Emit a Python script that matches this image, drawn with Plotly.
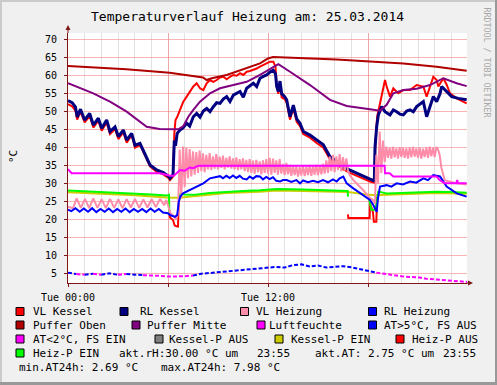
import plotly.graph_objects as go

# ---------------- data (hours since 00:00, °C) ----------------
vl_kessel_t = [0.0, 0.25, 0.45, 0.55, 0.75, 1.0, 1.3, 1.52, 1.82, 2.02, 2.32, 2.52, 2.82, 3.02, 3.32, 3.52,
               3.82, 4.02, 4.32, 4.5, 4.62, 4.92, 5.32, 5.72, 6.05, 6.12, 6.3, 6.38, 6.45, 6.55, 6.72, 6.92,
               7.12, 7.32, 7.52, 7.72, 7.92, 8.12, 8.32, 8.52, 8.72, 8.92, 9.12, 9.32, 9.52, 9.72, 9.92, 10.12,
               10.32, 10.52, 10.72, 10.92, 11.12, 11.32, 11.52, 11.72, 11.92, 12.12, 12.32, 12.45, 12.52, 12.62,
               12.72, 12.82, 13.0, 13.12, 13.32, 13.52, 13.72, 13.92, 14.12, 14.52, 14.92, 15.32, 15.72, 16.12,
               16.52, 16.92, 17.32, 17.72, 18.12, 18.38, 18.45, 18.55, 18.72, 18.9, 19.02, 19.12, 19.32, 19.52,
               19.82, 20.12, 20.52, 20.92, 21.32, 21.52, 21.72, 21.92, 22.12, 22.22, 22.52, 22.72, 22.92, 23.32,
               23.92]
vl_kessel_v = [52.1, 51.5, 50.3, 47.8, 50.0, 47.0, 48.8, 45.6, 47.5, 44.7, 47.0, 43.8, 45.2, 42.4, 44.3, 41.4,
               43.5, 40.0, 40.8, 39.0, 37.8, 34.8, 33.3, 32.6, 31.5, 31.0, 32.0, 44.0, 47.7, 48.5, 50.5, 52.8,
               54.2, 55.5, 57.0, 57.9, 56.5, 56.0, 57.9, 58.8, 58.3, 58.8, 59.5, 59.7, 59.0, 59.7, 60.2, 60.0,
               60.7, 60.2, 61.1, 61.3, 61.6, 62.0, 62.5, 63.0, 63.4, 63.9, 63.9, 62.5, 57.5, 55.0,
               57.5, 54.0, 53.5, 52.5, 47.8, 51.0, 47.2, 46.0, 43.8, 42.8, 41.3, 40.0, 36.8, 35.3,
               34.0, 33.0, 32.2, 31.3, 30.6, 30.3, 42.0, 48.6, 52.3, 56.0, 58.8, 57.0, 54.2, 56.5,
               55.1, 56.0, 56.0, 57.4, 57.0, 54.2, 57.0, 59.7, 58.8, 57.0, 59.3, 57.5, 55.1, 53.7,
               52.3]

rl_kessel_t = [0.0, 0.25, 0.45, 0.55, 0.75, 1.0, 1.3, 1.52, 1.82, 2.02, 2.32, 2.52, 2.82, 3.02, 3.32, 3.52,
               3.82, 4.02, 4.32, 4.5, 4.62, 4.92, 5.32, 5.72, 6.05, 6.12, 6.3, 6.38, 6.45, 6.55, 6.72, 6.9,
               7.12, 7.3, 7.52, 7.72, 7.92, 8.12, 8.32, 8.52, 8.72, 8.92, 9.12, 9.32, 9.52, 9.72, 9.92, 10.12,
               10.32, 10.52, 10.72, 10.92, 11.12, 11.32, 11.52, 11.72, 11.92, 12.12, 12.32, 12.45, 12.52, 12.62,
               12.72, 12.82, 13.0, 13.12, 13.32, 13.52, 13.72, 13.92, 14.12, 14.52, 14.92, 15.32, 15.72, 16.12,
               16.52, 16.92, 17.32, 17.72, 18.12, 18.38, 18.42, 18.52, 18.62, 18.82, 19.02, 19.32, 19.52, 19.72,
               19.92, 20.12, 20.32, 20.52, 20.72, 20.92, 21.12, 21.32, 21.52, 21.72, 21.92, 22.12, 22.32, 22.42,
               22.72, 23.02, 23.42, 23.92]
rl_kessel_v = [53.1, 52.5, 51.3, 48.5, 50.7, 47.7, 49.5, 46.3, 48.2, 45.4, 47.7, 44.5, 45.8, 43.1, 44.9, 42.1,
               44.0, 40.7, 41.2, 39.5, 38.4, 35.2, 33.8, 33.1, 32.0, 31.5, 32.5, 42.0, 40.5, 44.0, 44.9, 45.5,
               46.8, 46.0, 48.6, 49.5, 48.5, 50.2, 50.9, 50.0, 51.4, 52.5, 52.3, 53.5, 54.2, 52.8, 54.6, 55.2,
               55.6, 54.0, 56.5, 57.2, 57.9, 57.0, 59.3, 59.8, 60.2, 61.0, 61.5, 60.5, 57.0, 55.6,
               58.5, 55.0, 54.2, 53.3, 48.6, 51.8, 48.0, 46.8, 44.5, 43.5, 42.1, 40.8, 37.5, 36.1,
               34.7, 33.8, 32.9, 32.0, 31.3, 30.8, 40.0, 45.8, 49.1, 51.4, 50.0, 49.1, 50.5, 50.0,
               49.3, 49.1, 50.2, 50.5, 50.0, 51.4, 52.0, 52.8, 48.6, 51.5, 54.2, 52.8, 55.0, 57.0,
               55.6, 54.2, 53.7, 53.3]

# VL Heizung: night part, dense oscillation parts (step 0.1 h), transitions
vl_heiz_night_t = [0.0, 0.3, 0.52, 0.77, 1.02, 1.27, 1.52, 1.77, 2.02, 2.27, 2.52, 2.77, 3.02, 3.27, 3.52, 3.77,
                   4.02, 4.27, 4.52, 4.77, 5.02, 5.27, 5.52, 5.77, 5.9, 6.05, 6.15, 6.35, 6.5]
vl_heiz_night_v = [23.6, 23.2, 25.9, 23.3, 25.8, 23.2, 25.9, 23.3, 25.7, 23.2, 25.8, 23.3, 25.6, 23.2, 25.7, 23.4,
                   25.8, 23.3, 25.6, 23.4, 25.7, 23.5, 25.8, 24.0, 25.5, 23.0, 21.8, 21.0, 20.0]
vl_heiz_day_start = 6.6
vl_heiz_day_v = [22.0, 39.5, 26.0, 40.3, 29.0, 40.0, 31.5, 39.6, 32.0, 39.0, 32.5, 38.8, 33.0, 39.2, 33.5, 38.4,
                 33.2, 38.0, 34.0, 38.5, 33.8, 37.6, 34.2, 38.2, 34.0, 37.5, 34.4, 37.8, 34.0, 37.2, 34.5, 37.6,
                 34.2, 37.0, 34.0, 37.3, 33.8, 36.8, 34.0, 37.0, 33.5, 36.6, 33.2, 36.8, 33.0, 36.4, 32.8, 36.6,
                 33.2, 36.2, 32.6, 36.5, 33.0, 36.8, 32.8, 37.2, 32.5, 37.0, 33.0, 36.5, 32.5, 36.8, 32.8, 35.5,
                 32.4, 35.8, 32.6, 35.2, 32.2, 35.0, 32.4, 34.8, 32.0, 34.6, 32.3, 35.0, 32.1, 34.7, 32.4, 35.2,
                 32.2, 34.9, 32.5, 35.3, 32.4, 35.0, 32.6, 35.5, 32.8, 36.5, 33.0, 37.5, 33.5, 38.0, 33.2, 37.6,
                 33.8, 38.2, 33.4, 37.4, 33.6, 37.0, 33.5]
vl_heiz_mid_t = [16.9, 17.12, 17.5, 17.72, 18.12, 18.3, 18.42]
vl_heiz_mid_v = [32.5, 31.0, 29.2, 28.2, 26.0, 25.5, 24.5]
vl_heiz_eve_start = 18.5
vl_heiz_eve_v = [38.0, 30.0, 44.5, 33.0, 42.0, 36.0, 40.3, 37.2, 40.0, 37.0, 40.2, 37.3, 39.8, 37.0, 40.1, 37.4,
                 40.0, 37.2, 39.8, 37.0, 40.0, 37.3, 40.2, 37.5, 39.8, 37.2, 40.0, 37.0, 39.7, 37.4, 40.1, 37.2,
                 40.3, 37.6, 40.0, 37.4, 40.2, 39.5, 38.0]
vl_heiz_end_t = [22.4, 22.5, 22.6, 23.0, 23.32, 23.92]
vl_heiz_end_v = [34.5, 32.5, 31.0, 30.5, 30.1, 29.8]

rl_heiz_t = [0.0, 0.2, 0.45, 0.7, 0.95, 1.2, 1.45, 1.7, 1.95, 2.2, 2.45, 2.7, 2.95, 3.2, 3.45, 3.7, 3.95, 4.2,
             4.45, 4.7, 4.95, 5.2, 5.45, 5.7, 6.0, 6.12, 6.42, 6.55, 6.65, 6.75, 6.9, 7.2, 7.52, 7.8, 8.12,
             8.52, 8.8, 9.12, 9.3, 9.5, 9.7, 9.9, 10.1, 10.3, 10.5, 10.72, 10.9, 11.1, 11.3, 11.52, 11.7, 11.9,
             12.1, 12.3, 12.5, 12.72, 12.9, 13.12, 13.4, 13.7, 13.92, 14.1, 14.4, 14.7, 15.0, 15.3, 15.6, 15.9,
             16.12, 16.3, 16.52, 16.62, 16.72, 17.12, 17.72, 18.12, 18.32, 18.52, 18.6, 18.72, 19.12, 19.4,
             19.72, 20.1, 20.52, 20.9, 21.32, 21.6, 21.92, 22.32, 22.72, 23.32, 23.92]
rl_heiz_v = [22.8, 22.4, 23.2, 22.2, 23.1, 22.2, 23.2, 22.1, 23.0, 22.2, 23.1, 22.1, 23.0, 22.2, 23.1, 22.1, 23.0,
             22.2, 23.0, 22.1, 23.1, 22.2, 23.0, 22.0, 21.8, 21.3, 20.8, 21.3, 25.0, 26.5, 27.3, 28.0, 28.7,
             29.2, 30.1, 31.5, 31.8, 32.1, 31.5, 32.2, 31.6, 32.3, 31.6, 32.2, 31.4, 31.2, 32.0, 31.4, 32.1,
             32.0, 31.2, 31.9, 31.3, 31.8, 30.8, 30.6, 31.0, 31.0, 30.5, 31.0, 30.1, 30.9, 30.4, 30.8, 30.4,
             31.0, 30.4, 31.2, 30.6, 31.5, 32.0, 31.0, 30.1, 28.7, 26.9, 25.5, 24.1, 22.2, 26.0, 29.2, 29.6,
             29.2, 30.1, 29.8, 30.6, 30.3, 31.5, 31.0, 32.4, 32.0, 29.2, 27.3, 26.4]

puffer_oben_t = [0.0, 3.5, 6.1, 7.9, 8.1, 8.32, 8.62, 9.52, 10.72, 11.52, 12.0, 12.3, 16.12, 20.12, 22.12, 23.92]
puffer_oben_v = [62.7, 61.8, 60.8, 59.7, 59.5, 58.8, 59.3, 60.2, 62.0, 63.4, 64.8, 65.2, 64.5, 63.4, 62.5, 61.4]

puffer_mitte_t = [0.0, 1.52, 2.12, 2.52, 3.52, 4.72, 5.5, 6.12, 6.62, 6.92, 7.22, 7.52, 7.92, 8.52, 9.12, 9.92,
                  10.72, 11.52, 12.32, 12.62, 13.32, 14.52, 15.72, 16.72, 18.12, 18.72, 19.12, 19.52, 20.12,
                  20.92, 21.72, 22.52, 23.32, 23.92]
puffer_mitte_v = [57.9, 55.1, 53.7, 52.8, 50.0, 45.8, 45.2, 45.1, 45.1, 46.0, 48.6, 50.5, 52.8, 55.1, 56.5, 57.4,
                  58.3, 60.2, 62.5, 63.2, 61.1, 57.4, 53.3, 51.6, 50.7, 50.3, 51.9, 55.1, 56.0,
                  56.4, 57.4, 59.3, 57.9, 57.1]

luftfeuchte_t = [0.0, 0.1, 0.22, 5.52, 5.8, 6.12, 6.35, 6.5, 6.72, 7.0, 7.3, 7.52, 7.82, 19.0, 19.02, 19.3,
                 19.52, 22.12, 22.3, 22.6, 23.3, 23.35, 23.4, 23.92]
luftfeuchte_v = [34.0, 33.5, 32.9, 32.9, 32.6, 32.2, 32.2, 32.8, 33.8, 33.6, 34.5, 34.3, 35.0, 35.0, 32.9, 32.9,
                 32.0, 32.0, 31.0, 30.1, 30.1, 31.0, 30.1, 30.1]

# outside temperature (AT), every 30 min; segment state B = blue (AT>5°C, FS AUS), M = magenta (AT<2°C, FS EIN)
at_step = 0.5
at_v = [5.3, 4.9, 4.7, 5.0, 4.7, 5.1, 4.7, 4.9, 4.7, 4.6,
        4.6, 4.4, 4.2, 4.2, 4.3, 4.5, 5.0, 5.2, 5.4, 5.6,
        5.9, 6.1, 6.2, 6.3, 6.6, 6.9, 6.7, 7.4, 7.6, 7.0,
        7.3, 6.7, 6.9, 7.1, 6.8, 6.3, 5.9, 5.3, 4.9, 4.6,
        4.3, 4.1, 4.0, 3.6, 3.4, 3.25, 3.0, 2.8, 2.7]
at_seg = "BMBMBBMBB" + "MMMMMM" + "B" * 22 + "M" * 11

kessel_p_ein_t = [0.0, 2.0, 4.0, 5.92, 6.68, 7.5, 9.5, 11.5, 12.5, 14.1, 16.1, 16.8, 18.08, 18.5, 19.12, 20.12,
                  22.12, 23.92]
kessel_p_ein_v = [27.6, 27.3, 26.8, 26.2, 26.1, 26.5, 27.4, 27.8, 28.1, 28.0, 27.7, 27.7, 26.9, 26.8, 26.9, 27.1,
                  27.4, 27.2]

heiz_p_aus_t = [6.08, 6.12, 6.3, 6.4, 6.55, 6.6, 6.64, None, 16.8, 16.82, 18.1, 18.12, 18.3, 18.35, 18.5, 18.55]
heiz_p_aus_v = [22.0, 20.6, 19.9, 18.4, 18.1, 18.1, 24.6, None, 21.5, 20.5, 20.5, 24.6, 22.0, 19.4, 19.4, 26.4]

heiz_p_ein_t = [0.0, 1.0, 2.0, 3.0, 4.0, 5.0, 5.92, 6.06, 6.08, None, 6.68, 6.75, 7.0, 7.52, 8.5, 9.52, 10.5,
                11.52, 12.52, 14.12, 16.12, 16.72, 16.78, 16.8, None, 18.06, 18.2, 18.45, 18.62, 19.12, 20.12,
                21.0, 22.12, 23.0, 23.92]
heiz_p_ein_v = [28.1, 27.9, 27.8, 27.5, 27.3, 27.0, 26.7, 26.9, 22.2, None, 26.0, 27.3, 27.0, 26.9, 27.4, 27.8,
                28.0, 28.2, 28.5, 28.4, 28.1, 27.9, 28.0, 26.4, None, 26.0, 22.8, 22.8, 27.8, 27.3, 27.5,
                27.7, 27.8, 27.7, 27.5]

legend_labels = ["VL Kessel", "RL Kessel", "VL Heizung", "RL Heizung", "Puffer Oben", "Puffer Mitte",
                 "Luftfeuchte", "AT>5°C, FS AUS", "AT<2°C, FS EIN", "Kessel-P AUS", "Kessel-P EIN",
                 "Heiz-P AUS", "Heiz-P EIN"]
legend_colors = ["#FF0000", "#000080", "#FF8CA8", "#0000FF", "#B00000", "#800080", "#FF00FF", "#0000FF",
                 "#FF00FF", "#808080", "#CCCC00", "#FF0000", "#00FF00"]
info_texts = ["akt.rH:30.00 °C um", "23:55", "akt.AT: 2.75 °C um", "23:55",
              "min.AT24h: 2.69 °C", "max.AT24h: 7.98 °C"]
title_text = "Temperaturverlauf Heizung am: 25.03.2014"
x_tick_text = ["Tue 00:00", "", "Tue 12:00", ""]

# ---------------- geometry ----------------
W, H = 497, 385
L, R, T, B = 68, 30, 33, 102
PW, PH = W - L - R, H - T - B
MONO = "DejaVu Sans Mono"


def px(x):
    return (x - L) / PW


def py(y):
    return (H - B - y) / PH


col = dict(zip(legend_labels, legend_colors))
fig = go.Figure()


def line(t, v, color, width=2, dash=None):
    fig.add_trace(go.Scatter(x=t, y=v, mode="lines", line=dict(color=color, width=width, dash=dash),
                             connectgaps=False, hoverinfo="skip", showlegend=False))


# Kessel-P EIN (under green)
line(kessel_p_ein_t, kessel_p_ein_v, col["Kessel-P EIN"])
line(heiz_p_aus_t, heiz_p_aus_v, col["Heiz-P AUS"])
line(heiz_p_ein_t, heiz_p_ein_v, col["Heiz-P EIN"])

line(vl_kessel_t, vl_kessel_v, col["VL Kessel"], 2)
line(rl_kessel_t, rl_kessel_v, col["RL Kessel"], 3)

vl_day_t = [round(vl_heiz_day_start + 0.1 * i, 2) for i in range(len(vl_heiz_day_v))]
vl_eve_t = [round(vl_heiz_eve_start + 0.1 * i, 2) for i in range(len(vl_heiz_eve_v))]
line(vl_heiz_night_t + vl_day_t + vl_heiz_mid_t + vl_eve_t + vl_heiz_end_t,
     vl_heiz_night_v + vl_heiz_day_v + vl_heiz_mid_v + vl_heiz_eve_v + vl_heiz_end_v,
     col["VL Heizung"], 2)
line(rl_heiz_t, rl_heiz_v, col["RL Heizung"], 2)
line(puffer_oben_t, puffer_oben_v, col["Puffer Oben"], 2)
line(puffer_mitte_t, puffer_mitte_v, col["Puffer Mitte"], 2)
line(luftfeuchte_t, luftfeuchte_v, col["Luftfeuchte"], 2)

# outside temperature, split by state
at_t = [at_step * i for i in range(len(at_v))]
i = 0
while i < len(at_seg):
    j = i
    while j + 1 < len(at_seg) and at_seg[j + 1] == at_seg[i]:
        j += 1
    c = col["AT>5°C, FS AUS"] if at_seg[i] == "B" else col["AT<2°C, FS EIN"]
    line(at_t[i:j + 2], at_v[i:j + 2], c, 2, "4px,2px")
    i = j + 1

GRID_MAJOR = "rgba(240,120,120,0.55)"
GRID_MINOR = "#E2E2E2"
AXIS = "#7F1515"

fig.update_layout(
    width=W, height=H,
    margin=dict(l=L, r=R, t=T, b=B, pad=0),
    paper_bgcolor="#F0F0F0", plot_bgcolor="#FFFFFF",
    font=dict(family=MONO, size=10, color="#000000"),
    showlegend=False,
    xaxis=dict(range=[0, 23.94], tickmode="array", tickvals=[0, 6, 12, 18], ticktext=x_tick_text,
               showgrid=True, gridcolor=GRID_MAJOR, gridwidth=1, zeroline=False,
               showline=True, linecolor=AXIS, linewidth=1, ticks="outside", ticklen=3, tickcolor=AXIS,
               tickfont=dict(family=MONO, size=10, color="#000"), ticklabelstandoff=2,
               minor=dict(dtick=1, tick0=0, showgrid=True, gridcolor=GRID_MINOR, gridwidth=1, ticks="")),
    yaxis=dict(range=[2.42, 71.86], tick0=0, dtick=5, showgrid=True, gridcolor=GRID_MAJOR, gridwidth=1,
               zeroline=False, showline=True, linecolor=AXIS, linewidth=1, ticks="outside", ticklen=3,
               tickcolor=AXIS, tickfont=dict(family=MONO, size=10, color="#000"), ticklabelstandoff=5),
)

shapes = []
# y-axis arrow
shapes.append(dict(type="line", xref="paper", yref="paper", x0=0, x1=0, y0=1, y1=py(29), line=dict(color=AXIS, width=1)))
shapes.append(dict(type="path", xref="paper", yref="paper",
                   path=f"M {px(65.5)} {py(30)} L {px(68)} {py(25)} L {px(70.5)} {py(30)} Z",
                   fillcolor=AXIS, line=dict(color=AXIS, width=0)))
# x-axis arrow
shapes.append(dict(type="line", xref="paper", yref="paper", x0=1, x1=px(469), y0=0, y1=0, line=dict(color=AXIS, width=1)))
shapes.append(dict(type="path", xref="paper", yref="paper",
                   path=f"M {px(468)} {py(280.5)} L {px(473)} {py(283)} L {px(468)} {py(285.5)} Z",
                   fillcolor=AXIS, line=dict(color=AXIS, width=0)))
# frame shading
shapes.append(dict(type="rect", xref="paper", yref="paper", x0=px(0), x1=px(W), y0=py(0), y1=py(2),
                   fillcolor="#CBCBCB", line=dict(width=0)))
shapes.append(dict(type="rect", xref="paper", yref="paper", x0=px(0), x1=px(2), y0=py(0), y1=py(H),
                   fillcolor="#CBCBCB", line=dict(width=0)))
shapes.append(dict(type="rect", xref="paper", yref="paper", x0=px(W - 2), x1=px(W), y0=py(0), y1=py(H),
                   fillcolor="#999999", line=dict(width=0)))
shapes.append(dict(type="rect", xref="paper", yref="paper", x0=px(0), x1=px(W), y0=py(H - 3), y1=py(H),
                   fillcolor="#999999", line=dict(width=0)))

annotations = []


def text(x, y, s, size=11, color="#000", anchor="left", angle=0):
    annotations.append(dict(x=px(x), y=py(y), xref="paper", yref="paper", text=s, showarrow=False,
                            xanchor=anchor, yanchor="middle", textangle=angle,
                            font=dict(family=MONO, size=size, color=color)))


text(247.5, 17, title_text, size=13, anchor="center")
text(13, 157, "°C", size=11, anchor="center", angle=-90)
text(486.5, 62, "RRDTOOL / TOBI OETIKER", size=8.3, color="#A8A8A8", anchor="center", angle=90)

legend_pos = [(16, 31, 311.5), (120, 138, 311.5), (240.5, 253.5, 311.5), (368.5, 382, 311.5),
              (16, 31, 325), (132, 145, 325), (257, 267, 325), (368.5, 382, 325),
              (16, 31, 339), (155, 166.5, 339), (275, 288.5, 339), (396, 410, 339),
              (16, 31, 353)]
for (sx, tx, ry), lab, c in zip(legend_pos, legend_labels, legend_colors):
    shapes.append(dict(type="rect", xref="paper", yref="paper", x0=px(sx), x1=px(sx + 8), y0=py(ry - 4),
                       y1=py(ry + 4), fillcolor=c, line=dict(color="#000000", width=1)))
    text(tx, ry, lab)

info_pos = [(117, 353), (255, 353), (312.5, 353), (441, 353), (16.5, 367.5), (159, 367.5)]
for (tx, ry), s in zip(info_pos, info_texts):
    text(tx, ry, s)

fig.update_layout(shapes=shapes, annotations=annotations)
fig.write_html("out.html", config={"displayModeBar": False, "staticPlot": True},
               post_script="document.body.style.margin='0';document.body.style.padding='0';")
